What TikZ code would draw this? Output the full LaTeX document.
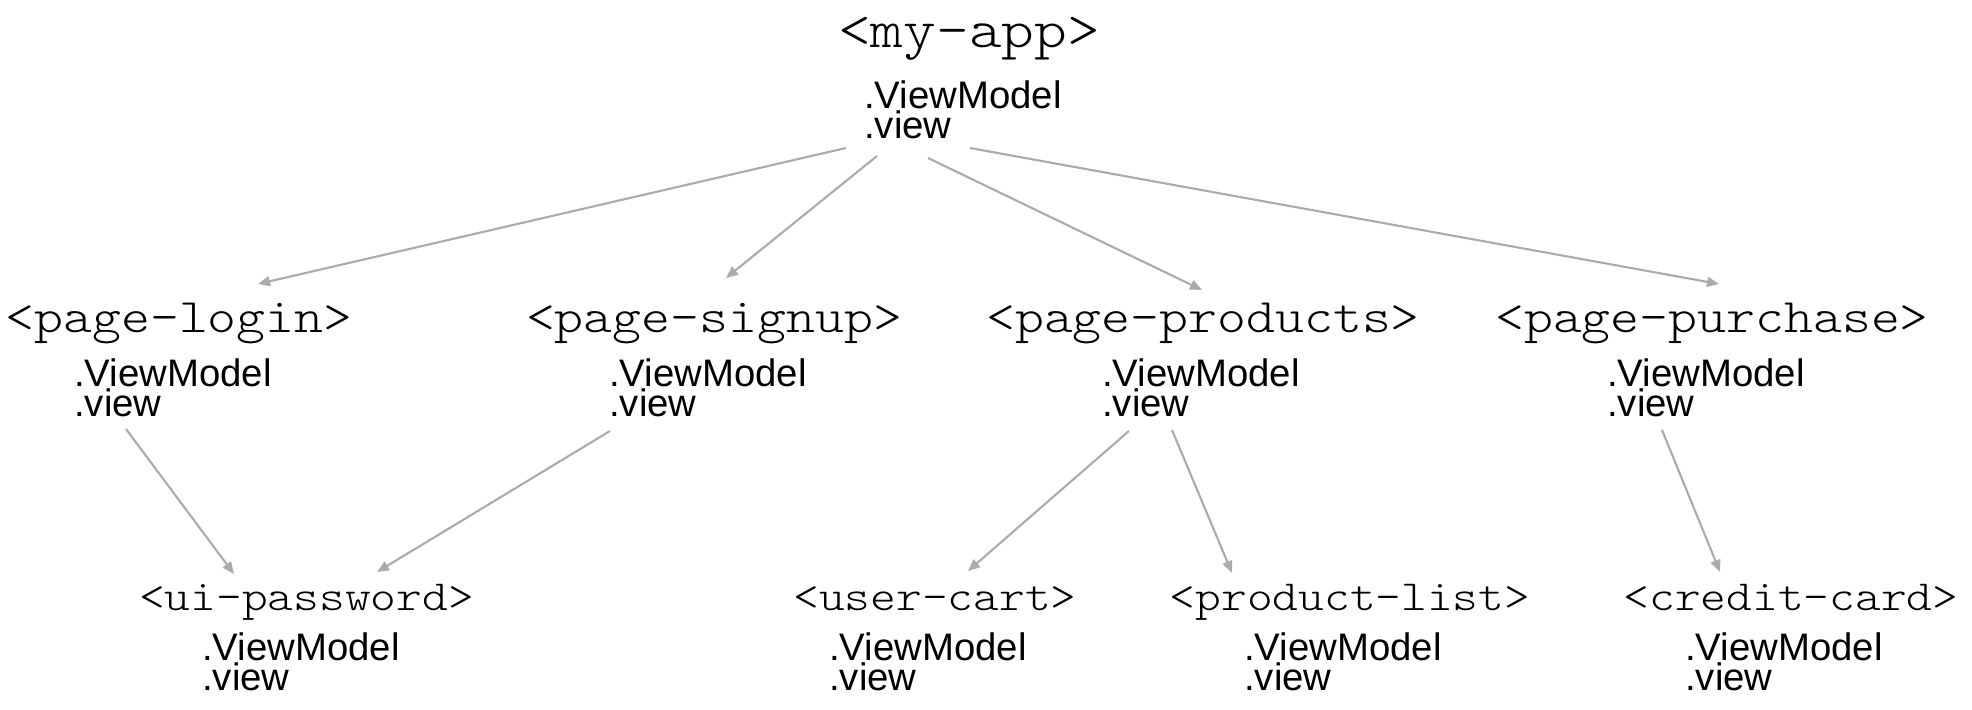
\documentclass[tikz,border=0pt]{standalone}
\usepackage{fontspec}
\setmainfont{Liberation Sans}
\newfontfamily\tagfont{lmmonolt10-regular.otf}[FakeStretch=1.143]
\usepackage{tikz}
\usetikzlibrary{arrows.meta}

\begin{document}
\begin{tikzpicture}[x=0.01cm,y=-0.01cm,
	tagtop/.style={anchor=base,inner sep=0pt,font=\tagfont\fontsize{15.5}{18}\selectfont},
	tagmid/.style={anchor=base,inner sep=0pt,font=\tagfont\fontsize{13.7}{16}\selectfont},
	taglow/.style={anchor=base,inner sep=0pt,font=\tagfont\fontsize{12.2}{14}\selectfont},
	vmtext/.style={anchor=base west,inner sep=0pt,align=left,font=\fontsize{10.9}{8.8}\selectfont},
	link/.style={draw=black!33,line width=0.6pt,-{Triangle[length=0.12cm,width=0.1cm]}}]
	\useasboundingbox (0,0) rectangle (1972,710);

	%nodes
	\node[tagtop] (app) at (969,48) {<my-app>};
	\node[vmtext] (vm0) at (863.5,139) {.ViewModel\\.view};

	\node[tagmid] (login)    at (179,333)  {<page-login>};
	\node[tagmid] (signup)   at (714,333)  {<page-signup>};
	\node[tagmid] (products) at (1203,333) {<page-products>};
	\node[tagmid] (purchase) at (1712,333) {<page-purchase>};
	\node[vmtext] (vm1) at (73.5,417)   {.ViewModel\\.view};
	\node[vmtext] (vm2) at (608.5,417)  {.ViewModel\\.view};
	\node[vmtext] (vm3) at (1101.5,417) {.ViewModel\\.view};
	\node[vmtext] (vm4) at (1606.5,417) {.ViewModel\\.view};

	\node[taglow] (password) at (306.5,611) {<ui-password>};
	\node[taglow] (cart)     at (935,611)   {<user-cart>};
	\node[taglow] (plist)    at (1350,611)  {<product-list>};
	\node[taglow] (card)     at (1791,611)  {<credit-card>};
	\node[vmtext] (vm5) at (201.5,691)  {.ViewModel\\.view};
	\node[vmtext] (vm6) at (828.5,691)  {.ViewModel\\.view};
	\node[vmtext] (vm7) at (1243.5,691) {.ViewModel\\.view};
	\node[vmtext] (vm8) at (1684.5,691) {.ViewModel\\.view};

	%lines
	\draw[link] ([shift={(-17.5,9)}]vm0.base west) -- ([shift={(79,-49)}]login.base);	%app--login
	\draw[link] ([shift={(13.5,17)}]vm0.base west) -- ([shift={(12,-55)}]signup.base);	%app--signup
	\draw[link] ([shift={(64.5,19)}]vm0.base west) -- ([shift={(-1,-43)}]products.base);	%app--products
	\draw[link] ([shift={(106.5,9)}]vm0.base west) -- ([shift={(7,-49)}]purchase.base);	%app--purchase

	\draw[link] ([shift={(52.5,12)}]vm1.base west) -- ([shift={(-72.5,-37)}]password.base);	%login--password
	\draw[link] ([shift={(1.5,14)}]vm2.base west) -- ([shift={(70.5,-39)}]password.base);	%signup--password
	\draw[link] ([shift={(27.5,14)}]vm3.base west) -- ([shift={(33,-40)}]cart.base);	%products--cart
	\draw[link] ([shift={(70.5,13)}]vm3.base west) -- ([shift={(-118,-38)}]plist.base);	%products--plist
	\draw[link] ([shift={(55.5,13)}]vm4.base west) -- ([shift={(-71,-39)}]card.base);	%purchase--card

\end{tikzpicture}
\end{document}
